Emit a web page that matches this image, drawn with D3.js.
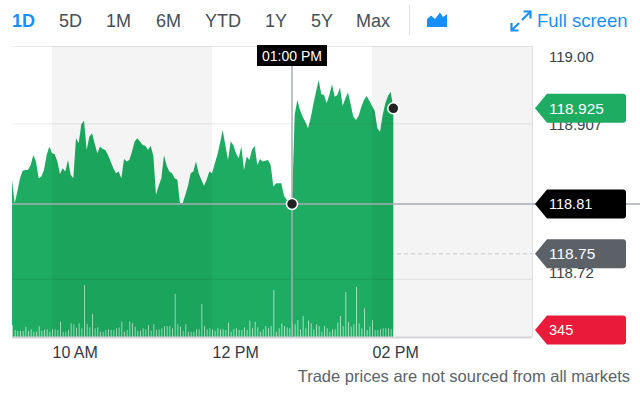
<!DOCTYPE html>
<html><head><meta charset="utf-8">
<script src="https://cdn.jsdelivr.net/npm/d3@7"></script>
<style>
html,body{margin:0;padding:0;background:#fff;}
svg{display:block;font-family:"Liberation Sans",Arial,Helvetica,sans-serif;}
</style></head><body>
<svg id="c" width="640" height="393"></svg>
<script>
// ---------- data ----------
const rangeButtons = ["1D","5D","1M","6M","YTD","1Y","5Y","Max"];
const activeRange = "1D";
const sessionStart = "09:30";
const sessionEnd = "16:00";
const stepMinutes = 2;
const prices = [
118.839,118.811,118.825,118.841,118.850,118.851,118.851,118.857,118.869,118.861,
118.841,118.843,118.851,118.869,118.879,118.871,118.870,118.861,118.846,118.853,
118.849,118.863,118.845,118.841,118.889,118.883,118.906,118.910,118.875,118.891,
118.895,118.883,118.871,118.879,118.876,118.875,118.869,118.861,118.853,118.847,
118.849,118.841,118.864,118.861,118.863,118.873,118.885,118.889,118.885,118.881,
118.880,118.875,118.880,118.868,118.821,118.832,118.841,118.869,118.856,118.849,
118.847,118.841,118.839,118.811,118.811,118.821,118.832,118.847,118.849,118.861,
118.847,118.839,118.832,118.839,118.849,118.847,118.858,118.869,118.883,118.899,
118.881,118.863,118.885,118.881,118.871,118.865,118.879,118.851,118.867,118.863,
118.875,118.880,118.857,118.864,118.861,118.862,118.863,118.857,118.831,118.835,
118.835,118.835,118.820,118.815,118.811,118.810,118.917,118.935,118.923,118.915,
118.909,118.901,118.913,118.930,118.945,118.959,118.942,118.941,118.931,118.941,
118.954,118.939,118.941,118.950,118.928,118.937,118.944,118.930,118.915,118.911,
118.916,118.927,118.935,118.940,118.934,118.928,118.922,118.901,118.897,118.917,
118.931,118.940,118.945,118.925];
const volumes = [
590,350,300,300,300,500,300,380,260,260,
540,310,350,380,260,380,380,350,760,260,
260,350,680,630,460,680,430,2570,640,480,
1140,430,480,260,260,350,380,350,350,430,
480,760,260,350,760,680,510,310,310,430,
380,590,310,630,350,380,430,540,540,540,
430,2130,640,510,310,630,260,260,260,380,
380,1630,540,380,430,380,310,430,380,380,
350,710,260,380,430,350,350,480,350,810,
430,760,480,260,380,540,430,540,2330,260,
430,680,540,480,430,680,630,840,380,1040,
430,810,680,380,630,540,260,540,430,260,
380,380,730,1040,540,2230,730,510,630,2480,
680,430,1420,350,510,840,350,350,380,430,
430,430,400,345];
const xTickTimes = ["10:00","12:00","14:00"];
const xTickLabels = ["10 AM","12 PM","02 PM"];
const yTickValues = [119.00, 118.907, 118.72];
const yTickLabels = ["119.00","118.907","118.72"];
const bandStartTimes = ["10:00","14:00"];
const bandEndTimes = ["12:00","16:00"];
const crosshairTime = "13:00";
const crosshairLabel = "01:00 PM";
const crosshairPrice = 118.81;
const lastPrice = 118.925;
const referencePrice = 118.75;
const lastVolume = 345;
const footerText = "Trade prices are not sourced from all markets";

// ---------- setup ----------
const svg = d3.select("#c");
const parse = d3.timeParse("%H:%M");
const t0 = parse(sessionStart);
const times = prices.map((_, i) => d3.timeMinute.offset(t0, i * stepMinutes));

const L = 12, R = 532, T = 46, B = 337;
const x = d3.scaleTime().domain([t0, parse(sessionEnd)]).range([L, R]);
const y = d3.scaleLinear().domain([118.65, 119.00]).range([B, T]);
const yV = d3.scaleLinear().domain([0, 5000]).range([B, B - 101]);

const green = "#1dac61";

// dashed reference line (under area)
svg.append("line")
  .attr("x1", L).attr("x2", 540)
  .attr("y1", y(referencePrice)).attr("y2", y(referencePrice))
  .attr("stroke", "#d2d3d7").attr("stroke-width", 1).attr("stroke-dasharray", "4,3");

// area
const area = d3.area().x((d, i) => x(times[i])).y0(B).y1(d => y(d));
svg.append("path").datum(prices).attr("d", area).attr("fill", green);

// volume bars
svg.append("g").selectAll("line").data(volumes).join("line")
  .attr("x1", (d, i) => x(times[i]) + 0.5).attr("x2", (d, i) => x(times[i]) + 0.5)
  .attr("y1", yV(0)).attr("y2", d => yV(d))
  .attr("stroke", "rgba(255,255,255,0.6)").attr("stroke-width", 1);

// shaded bands (over everything in plot)
svg.append("g").selectAll("rect").data(bandStartTimes).join("rect")
  .attr("x", d => x(parse(d)))
  .attr("width", (d, i) => x(parse(bandEndTimes[i])) - x(parse(d)))
  .attr("y", T).attr("height", B - T)
  .attr("fill", "#000").attr("fill-opacity", 0.045);

// gridlines
svg.append("g").selectAll("line").data(yTickValues).join("line")
  .attr("x1", L).attr("x2", R)
  .attr("y1", d => y(d) + 0.5).attr("y2", d => y(d) + 0.5)
  .attr("stroke", "#000").attr("stroke-opacity", 0.08);
// right border
svg.append("line").attr("x1", R + 0.5).attr("x2", R + 0.5).attr("y1", T).attr("y2", B)
  .attr("stroke", "#dcdce2");
// bottom axis line
svg.append("line").attr("x1", L).attr("x2", R).attr("y1", B + 0.5).attr("y2", B + 0.5)
  .attr("stroke", "#d3d4d8").attr("stroke-width", 2);

// crosshair
const cx = x(parse(crosshairTime));
svg.append("line").attr("x1", L).attr("x2", 640)
  .attr("y1", y(crosshairPrice)).attr("y2", y(crosshairPrice))
  .attr("stroke", "#a9acb2").attr("stroke-width", 1.5);
svg.append("line").attr("x1", cx).attr("x2", cx).attr("y1", 64).attr("y2", B)
  .attr("stroke", "#a9acb2").attr("stroke-width", 1.5);

// dots
svg.append("circle").attr("cx", cx).attr("cy", y(crosshairPrice)).attr("r", 5.5)
  .attr("fill", "#222").attr("stroke", "#fff").attr("stroke-width", 1.5);
svg.append("circle").attr("cx", x(times[times.length - 1])).attr("cy", y(prices[prices.length - 1])).attr("r", 5.5)
  .attr("fill", "#222").attr("stroke", "#fff").attr("stroke-width", 1.5);

// crosshair label
svg.append("rect").attr("x", cx - 35).attr("y", 45).attr("width", 70).attr("height", 21).attr("fill", "#000");
svg.append("text").attr("x", cx).attr("y", 61).attr("text-anchor", "middle")
  .attr("fill", "#fff").attr("font-size", 14).text(crosshairLabel);

// y axis
const yOffsets = [11, 1.5, -6.5];
const yAxis = svg.append("g").attr("transform", `translate(${R},0)`)
  .call(d3.axisRight(y).tickValues(yTickValues).tickFormat((d, i) => yTickLabels[i]).tickSize(0).tickPadding(17));
yAxis.select(".domain").remove();
yAxis.selectAll("text").attr("font-size", 15).attr("fill", "#3a3f45")
  .attr("font-family", "Liberation Sans, Arial, sans-serif")
  .attr("y", (d, i) => yOffsets[i]);

// tags
function tag(cy, color, label, fs) {
  const h = 14.5, xl = 535, xb = 547, xr = 626, r = 3;
  const p = `M${xl},${cy} L${xb},${cy - h} L${xr - r},${cy - h} Q${xr},${cy - h} ${xr},${cy - h + r} L${xr},${cy + h - r} Q${xr},${cy + h} ${xr - r},${cy + h} L${xb},${cy + h} Z`;
  svg.append("path").attr("d", p).attr("fill", color);
  svg.append("text").attr("x", 549).attr("y", cy).attr("dy", "0.36em")
    .attr("fill", "#fff").attr("font-size", fs).text(label);
}
tag(y(lastPrice), green, d3.format(".3f")(lastPrice), 15.5);
tag(y(crosshairPrice), "#000", d3.format(".2f")(crosshairPrice), 14.5);
tag(y(referencePrice), "#5c6167", d3.format(".2f")(referencePrice), 15.5);
tag(yV(lastVolume), "#ea1a3a", String(lastVolume), 14.5);

// x axis
const xAxis = svg.append("g").attr("transform", `translate(0,${B})`)
  .call(d3.axisBottom(x).tickValues(xTickTimes.map(parse)).tickFormat((d, i) => xTickLabels[i]).tickSize(0).tickPadding(10));
xAxis.select(".domain").remove();
xAxis.selectAll("text").attr("text-anchor", "start").attr("font-size", 16).attr("fill", "#33383d")
  .attr("font-family", "Liberation Sans, Arial, sans-serif");

// toolbar
const btnX = [12, 59, 106, 156, 205, 265, 311, 356];
svg.append("g").selectAll("text").data(rangeButtons).join("text")
  .attr("x", (d, i) => btnX[i]).attr("y", 27)
  .attr("font-size", 18)
  .attr("font-weight", d => d === activeRange ? "bold" : "normal")
  .attr("fill", d => d === activeRange ? "#188fff" : "#464e56")
  .text(d => d);
svg.append("line").attr("x1", 409.5).attr("x2", 409.5).attr("y1", 4).attr("y2", 36).attr("stroke", "#e3e4e8");
svg.append("path").attr("d", "M427,27 L427,19 L431,15.5 L435,19 L440,12.5 L443,17 L447,14 L447,27 Z").attr("fill", "#188fff");
const fs = svg.append("g").attr("stroke", "#188fff").attr("stroke-width", 2.2).attr("fill", "none");
fs.append("line").attr("x1", 522).attr("y1", 20).attr("x2", 530).attr("y2", 12);
fs.append("polyline").attr("points", "523.5,11.5 530.5,11.5 530.5,18.5");
fs.append("line").attr("x1", 519).attr("y1", 23).attr("x2", 512).attr("y2", 30);
fs.append("polyline").attr("points", "511.5,23 511.5,30.5 518.5,30.5");
svg.append("text").attr("x", 537).attr("y", 27).attr("font-size", 18.5).attr("fill", "#188fff").text("Full screen");

// footer
svg.append("text").attr("x", 630).attr("y", 382).attr("text-anchor", "end")
  .attr("font-size", 16.5).attr("fill", "#5b636a").text(footerText);
</script>
</body></html>
